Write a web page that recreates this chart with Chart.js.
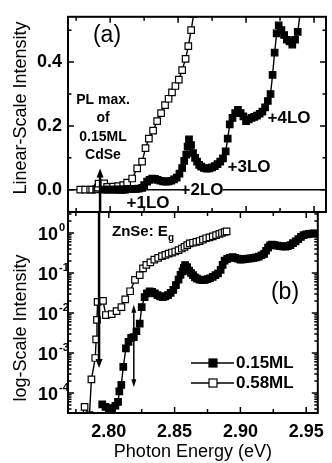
<!DOCTYPE html>
<html>
<head>
<meta charset="utf-8">
<script src="https://cdn.jsdelivr.net/npm/chart.js@4.4.1/dist/chart.umd.min.js"></script>
<style>
  html, body { margin: 0; padding: 0; background: #fff; }
  #wrap { position: relative; width: 332px; height: 463px; }
  #wrap canvas { position: absolute; left: 0; top: 0; }
</style>
</head>
<body>
<div id="wrap">
  <canvas id="lin-chart" width="332" height="463"></canvas>
  <canvas id="log-chart" width="332" height="463"></canvas>
</div>
<script>
// ── Data: photon energy (eV) / intensity ───────────
const energy015 = [
  2.7950, 2.7975, 2.8000, 2.8025, 2.8050, 2.8070, 2.8080, 2.8095, 2.8110, 2.8130,
  2.8150, 2.8170, 2.8190, 2.8210, 2.8235, 2.8250, 2.8272, 2.8290, 2.8310, 2.8330,
  2.8350, 2.8370, 2.8390, 2.8410, 2.8430, 2.8450, 2.8470, 2.8490, 2.8510, 2.8530,
  2.8545, 2.8560, 2.8570, 2.8580, 2.8595, 2.8610, 2.8625, 2.8640, 2.8655, 2.8670,
  2.8690, 2.8710, 2.8730, 2.8750, 2.8770, 2.8790, 2.8810, 2.8830, 2.8850, 2.8865,
  2.8880, 2.8900, 2.8920, 2.8940, 2.8960, 2.8980, 2.9000, 2.9020, 2.9040, 2.9060,
  2.9080, 2.9100, 2.9120, 2.9140, 2.9160, 2.9180, 2.9195, 2.9210, 2.9225, 2.9240,
  2.9260, 2.9280, 2.9300, 2.9320, 2.9340, 2.9360, 2.9380, 2.9400, 2.9420, 2.9440,
  2.9460, 2.9480, 2.9500, 2.9520, 2.9540, 2.9560
];
const signal015 = [
  0.000052, 0.000045, 0.000040, 0.000042, 0.000048, 0.000060, 0.00011, 0.00016, 0.00045, 0.0013,
  0.0019, 0.0024, 0.0025, 0.0035, 0.0054, 0.014, 0.025, 0.031, 0.035, 0.034,
  0.031, 0.028, 0.026, 0.025, 0.026, 0.028, 0.032, 0.038, 0.050, 0.068,
  0.090, 0.110, 0.135, 0.158, 0.140, 0.115, 0.100, 0.088, 0.078, 0.072,
  0.068, 0.066, 0.067, 0.070, 0.074, 0.080, 0.088, 0.098, 0.120, 0.160,
  0.205, 0.225, 0.240, 0.250, 0.240, 0.230, 0.215, 0.220, 0.225, 0.228,
  0.232, 0.238, 0.245, 0.258, 0.278, 0.300, 0.360, 0.430, 0.490, 0.515,
  0.500, 0.485, 0.470, 0.465, 0.455, 0.470, 0.495, 0.560, 0.620, 0.700,
  0.800, 0.880, 0.920, 0.950, 0.970, 0.980
];

const energy058 = [
  2.7780, 2.7816, 2.7853, 2.7868, 2.7897, 2.7904, 2.7910, 2.7915, 2.7956, 2.7978,
  2.8022, 2.8059, 2.8096, 2.8125, 2.8162, 2.8199, 2.8235, 2.8260, 2.8285, 2.8316,
  2.8346, 2.8375, 2.8404, 2.8430, 2.8455, 2.8480, 2.8505, 2.8530, 2.8555, 2.8575,
  2.8596, 2.8615, 2.8640, 2.8665, 2.8690, 2.8715, 2.8740, 2.8765, 2.8790, 2.8815,
  2.8840, 2.8860, 2.8880, 2.8895
];
const signal058 = [
  0.000015, 0.000045, 0.000028, 0.00022, 0.00075, 0.0022, 0.0067, 0.019, 0.020, 0.0089,
  0.0094, 0.0112, 0.0141, 0.022, 0.035, 0.067, 0.088, 0.130, 0.160, 0.185,
  0.215, 0.240, 0.265, 0.285, 0.305, 0.325, 0.345, 0.375, 0.410, 0.450,
  0.500, 0.550, 0.570, 0.600, 0.630, 0.680, 0.740, 0.780, 0.820, 0.880,
  0.950, 1.000, 1.060, 1.100
];

const seriesNames = ['0.15ML', '0.58ML'];

// ── Axis ticks ─────────────────────────────────────
const energyMajor = [2.80, 2.85, 2.90, 2.95];
const energyMinor = [2.775, 2.825, 2.875, 2.925];
const linMajor = [0.0, 0.2, 0.4];
const linMinor = [0.1, 0.3, 0.5];
const logDecades = [-4, -3, -2, -1, 0];

// ── Layout constants ───────────────────────────────
const FONT = '"Liberation Sans", Arial, Helvetica, sans-serif';
const X_MIN = 2.769, X_MAX = 2.9588;
const AXIS_W = 68;

function toPoints(xs, ys) {
  return xs.map((x, i) => ({ x, y: ys[i] }));
}

function seriesStyle(filled) {
  return {
    borderColor: '#000',
    borderWidth: 1.4,
    pointStyle: 'rect',
    pointRadius: 4.6,
    pointHoverRadius: 4.6,
    pointBackgroundColor: filled ? '#000' : '#fff',
    pointBorderColor: '#000',
    pointBorderWidth: 1.2,
    tension: 0,
    fill: false,
  };
}

function makeDatasets() {
  return [
    { label: seriesNames[0], data: toPoints(energy015, signal015), order: 0, ...seriesStyle(true) },
    { label: seriesNames[1], data: toPoints(energy058, signal058), order: 1, ...seriesStyle(false) },
  ];
}

function label(ctx, str, x, y, size, weight = 'bold', align = 'center') {
  ctx.font = `${weight} ${size}px ${FONT}`;
  ctx.textAlign = align;
  ctx.textBaseline = 'middle';
  ctx.fillText(str, x, y);
}

function arrowHead(ctx, x, y, dir, w, h) {
  // dir -1 points up, +1 points down; (x, y) is the tip
  ctx.beginPath();
  ctx.moveTo(x, y);
  ctx.lineTo(x - w, y - dir * h);
  ctx.lineTo(x + w, y - dir * h);
  ctx.closePath();
  ctx.fill();
}

function vLine(ctx, x, y0, y1, lw) {
  ctx.lineWidth = lw;
  ctx.beginPath();
  ctx.moveTo(x, y0);
  ctx.lineTo(x, y1);
  ctx.stroke();
}

// ── Frame with inward ticks on all four sides ──────
const panelFrame = {
  id: 'panelFrame',
  afterDatasetsDraw(chart, args, opts) {
    const { ctx, chartArea: a, scales: { x, y } } = chart;
    ctx.save();
    ctx.strokeStyle = '#000';
    ctx.lineWidth = 1.5;
    ctx.beginPath();
    const tickX = (v, len) => {
      const px = x.getPixelForValue(v);
      ctx.moveTo(px, a.top); ctx.lineTo(px, a.top + len);
      ctx.moveTo(px, a.bottom); ctx.lineTo(px, a.bottom - len);
    };
    const tickY = (v, len) => {
      const py = y.getPixelForValue(v);
      if (py < a.top || py > a.bottom) return;
      ctx.moveTo(a.left, py); ctx.lineTo(a.left + len, py);
      ctx.moveTo(a.right, py); ctx.lineTo(a.right - len, py);
    };
    energyMajor.forEach(v => tickX(v, 6));
    energyMinor.forEach(v => tickX(v, 4));
    opts.yMajor.forEach(v => tickY(v, 6));
    opts.yMinor.forEach(v => tickY(v, 3.5));
    ctx.stroke();
    ctx.lineWidth = 2;
    ctx.strokeRect(a.left, a.top, a.right - a.left, a.bottom - a.top);
    ctx.restore();
  }
};

// ── Panel (a) notes: zero line, LO replicas, PL arrow ──
const linearNotes = {
  id: 'linearNotes',
  beforeDatasetsDraw(chart) {
    const { ctx, chartArea: a, scales: { y } } = chart;
    const y0 = y.getPixelForValue(0);
    ctx.save();
    ctx.strokeStyle = '#000';
    ctx.lineWidth = 1.5;
    ctx.beginPath();
    ctx.moveTo(a.left, y0);
    ctx.lineTo(a.right, y0);
    ctx.stroke();
    ctx.fillStyle = '#fff';
    ctx.fillRect(181, y0 - 8, 42, 16);
    ctx.fillStyle = '#000';
    label(ctx, '+2LO', 202, y0 + 1, 17);
    ctx.restore();
  },
  afterDatasetsDraw(chart) {
    const { ctx, chartArea: a, scales: { x, y } } = chart;
    ctx.save();
    ctx.fillStyle = '#000';
    ctx.strokeStyle = '#000';
    label(ctx, '(a)', 107, 36, 23, 'normal');
    label(ctx, 'PL max.', 103, 100, 14);
    label(ctx, 'of', 103, 118, 14);
    label(ctx, '0.15ML', 103, 137, 14);
    label(ctx, 'CdSe', 103, 155, 14);
    label(ctx, '+1LO', 148, 203, 17);
    label(ctx, '+3LO', 249, 167, 17);
    label(ctx, '+4LO', 289, 118, 17);

    // PL maximum marker, continues into panel (b)
    const px = x.getPixelForValue(2.7926);
    const top = y.getPixelForValue(0.066);
    vLine(ctx, px, top + 6, a.bottom, 2.5);
    arrowHead(ctx, px, top, -1, 3.5, 9);

    // y title
    ctx.translate(21, 108);
    ctx.rotate(-Math.PI / 2);
    label(ctx, 'Linear-Scale Intensity', 0, 0, 18, 'normal');
    ctx.restore();
  }
};

// ── Panel (b) notes: decade labels, ZnSe gap, legend ──
const logNotes = {
  id: 'logNotes',
  afterDatasetsDraw(chart) {
    const { ctx, chartArea: a, scales: { x, y } } = chart;
    ctx.save();
    ctx.fillStyle = '#000';
    ctx.strokeStyle = '#000';

    logDecades.forEach(d => {
      const py = y.getPixelForValue(Math.pow(10, d));
      label(ctx, '10', 58, py + 2, 18, 'bold', 'right');
      label(ctx, d === 0 ? '0' : '-' + Math.abs(d), 59, py - 5, 11, 'bold', 'left');
    });

    // PL maximum marker (lower part)
    const px1 = x.getPixelForValue(2.7926);
    const bot1 = y.getPixelForValue(4.2e-4);
    vLine(ctx, px1, a.top, bot1 - 6, 2.5);
    arrowHead(ctx, px1, bot1, 1, 3.5, 9);

    // ZnSe band gap marker
    const px2 = x.getPixelForValue(2.819);
    const top2 = y.getPixelForValue(0.016);
    const bot2 = y.getPixelForValue(1.4e-4);
    vLine(ctx, px2, top2 + 5, bot2 - 5, 1.5);
    arrowHead(ctx, px2, top2, -1, 2.5, 8);
    arrowHead(ctx, px2, bot2, 1, 2.5, 8);

    label(ctx, 'ZnSe: E', 112, 232, 15, 'bold', 'left');
    label(ctx, 'g', 168, 238, 10, 'bold', 'left');
    label(ctx, '(b)', 285, 293, 23, 'normal');

    // legend
    [[363, true], [383, false]].forEach(([ly, filled], i) => {
      ctx.lineWidth = 1.5;
      ctx.beginPath();
      ctx.moveTo(191, ly);
      ctx.lineTo(234, ly);
      ctx.stroke();
      ctx.fillStyle = filled ? '#000' : '#fff';
      ctx.fillRect(209, ly - 4, 8, 8);
      ctx.lineWidth = 1.2;
      ctx.strokeRect(209, ly - 4, 8, 8);
      ctx.fillStyle = '#000';
      label(ctx, seriesNames[i], 236, ly, 17, 'bold', 'left');
    });

    // y title
    ctx.translate(21, 328);
    ctx.rotate(-Math.PI / 2);
    label(ctx, 'log-Scale Intensity', 0, 0, 18, 'normal');
    ctx.restore();
  }
};

// ── Panel (a): linear scale ─────────────────────────
new Chart(document.getElementById('lin-chart'), {
  type: 'line',
  data: { datasets: makeDatasets() },
  plugins: [linearNotes, panelFrame],
  options: {
    responsive: false,
    animation: false,
    layout: { padding: { left: 0, right: 6, top: 10, bottom: 251 } },
    plugins: {
      legend: { display: false },
      tooltip: { enabled: false },
      panelFrame: { yMajor: linMajor, yMinor: linMinor },
    },
    scales: {
      x: { type: 'linear', min: X_MIN, max: X_MAX, display: false },
      y: {
        type: 'linear',
        min: -0.07,
        max: 0.542,
        grid: { display: false, drawTicks: false },
        border: { display: false },
        afterBuildTicks: s => { s.ticks = linMajor.map(v => ({ value: v })); },
        afterFit: s => { s.width = AXIS_W; },
        ticks: {
          color: '#000',
          padding: 6,
          font: { family: FONT, size: 18, weight: 'bold' },
          callback: v => Number(v).toFixed(1),
        },
      },
    },
  },
});

// ── Panel (b): log scale ────────────────────────────
new Chart(document.getElementById('log-chart'), {
  type: 'line',
  data: { datasets: makeDatasets() },
  plugins: [logNotes, panelFrame],
  options: {
    responsive: false,
    animation: false,
    layout: { padding: { left: 0, right: 6, top: 212, bottom: 0 } },
    plugins: {
      legend: { display: false },
      tooltip: { enabled: false },
      panelFrame: {
        yMajor: logDecades.map(d => Math.pow(10, d)),
        yMinor: [-5, -4, -3, -2, -1, 0].flatMap(d => [2, 3, 4, 5, 6, 7, 8, 9].map(m => m * Math.pow(10, d))),
      },
    },
    scales: {
      x: {
        type: 'linear',
        min: X_MIN,
        max: X_MAX,
        grid: { display: false, drawTicks: false },
        border: { display: false },
        afterBuildTicks: s => { s.ticks = energyMajor.map(v => ({ value: v })); },
        afterFit: s => { s.height = 50; },
        ticks: {
          color: '#000',
          padding: 8,
          maxRotation: 0,
          autoSkip: false,
          font: { family: FONT, size: 18, weight: 'bold' },
          callback: v => Number(v).toFixed(2),
        },
        title: {
          display: true,
          text: 'Photon Energy (eV)',
          color: '#000',
          padding: { top: 0, bottom: 0 },
          font: { family: FONT, size: 18, weight: 'normal' },
        },
      },
      y: {
        type: 'logarithmic',
        min: Math.pow(10, -4.5),
        max: Math.pow(10, 0.525),
        grid: { display: false, drawTicks: false },
        border: { display: false },
        ticks: { display: false },
        afterFit: s => { s.width = AXIS_W; },
      },
    },
  },
});
</script>
</body>
</html>
